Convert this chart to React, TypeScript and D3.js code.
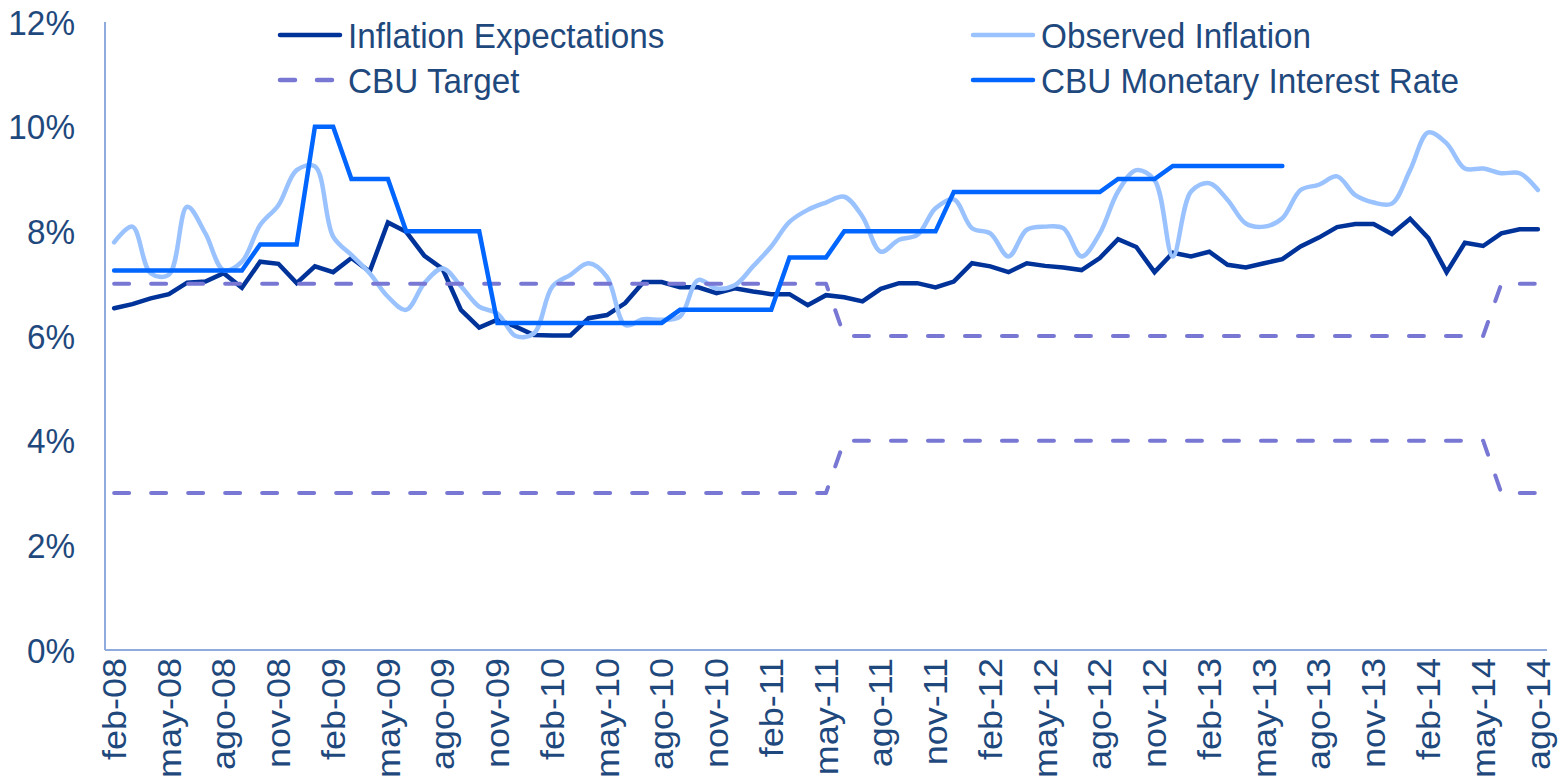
import React, { useEffect, useMemo } from "react";
import * as d3 from "d3";

// monthly categories, feb-08 .. ago-14
const months = [
  "feb-08", "mar-08", "abr-08", "may-08", "jun-08", "jul-08", "ago-08", "sep-08", "oct-08", "nov-08", "dic-08",
  "ene-09", "feb-09", "mar-09", "abr-09", "may-09", "jun-09", "jul-09", "ago-09", "sep-09", "oct-09", "nov-09", "dic-09",
  "ene-10", "feb-10", "mar-10", "abr-10", "may-10", "jun-10", "jul-10", "ago-10", "sep-10", "oct-10", "nov-10", "dic-10",
  "ene-11", "feb-11", "mar-11", "abr-11", "may-11", "jun-11", "jul-11", "ago-11", "sep-11", "oct-11", "nov-11", "dic-11",
  "ene-12", "feb-12", "mar-12", "abr-12", "may-12", "jun-12", "jul-12", "ago-12", "sep-12", "oct-12", "nov-12", "dic-12",
  "ene-13", "feb-13", "mar-13", "abr-13", "may-13", "jun-13", "jul-13", "ago-13", "sep-13", "oct-13", "nov-13", "dic-13",
  "ene-14", "feb-14", "mar-14", "abr-14", "may-14", "jun-14", "jul-14", "ago-14",
];

const inflationExpectations = [
  6.53, 6.61, 6.72, 6.8, 7.02, 7.04, 7.2, 6.92, 7.42, 7.38, 7.01,
  7.33, 7.22, 7.49, 7.23, 8.17, 7.99, 7.53, 7.28, 6.5, 6.16, 6.31, 6.18,
  6.02, 6.01, 6.01, 6.34, 6.4, 6.63, 7.03, 7.03, 6.93, 6.93, 6.82, 6.91,
  6.85, 6.8, 6.8, 6.59, 6.78, 6.74, 6.66, 6.9, 7.01, 7.01, 6.93, 7.04,
  7.39, 7.33, 7.22, 7.39, 7.34, 7.31, 7.26, 7.49, 7.85, 7.7, 7.22, 7.59,
  7.52, 7.61, 7.36, 7.31, 7.39, 7.47, 7.71, 7.88, 8.08, 8.14, 8.14, 7.95,
  8.24, 7.87, 7.22, 7.78, 7.72, 7.96, 8.04, 8.04,
];

const observedInflation = [
  7.79, 8.09, 7.2, 7.17, 8.47, 7.96, 7.26, 7.42, 8.12, 8.5, 9.17,
  9.24, 7.9, 7.55, 7.2, 6.75, 6.5, 7.01, 7.29, 6.95, 6.56, 6.43, 6.0,
  6.05, 6.94, 7.17, 7.39, 7.13, 6.21, 6.32, 6.31, 6.37, 7.07, 6.91, 6.97,
  7.33, 7.71, 8.18, 8.41, 8.55, 8.66, 8.28, 7.61, 7.84, 7.93, 8.44, 8.61,
  8.06, 7.96, 7.52, 8.03, 8.09, 8.06, 7.52, 7.96, 8.76, 9.17, 8.98, 7.52,
  8.76, 8.92, 8.6, 8.15, 8.09, 8.25, 8.79, 8.89, 9.05, 8.69, 8.55, 8.53,
  9.17, 9.89, 9.68, 9.2, 9.2, 9.11, 9.11, 8.79,
];

const targetUpper = [
  7, 7, 7, 7, 7, 7, 7, 7, 7, 7, 7,
  7, 7, 7, 7, 7, 7, 7, 7, 7, 7, 7, 7,
  7, 7, 7, 7, 7, 7, 7, 7, 7, 7, 7, 7,
  7, 7, 7, 7, 7, 6, 6, 6, 6, 6, 6, 6,
  6, 6, 6, 6, 6, 6, 6, 6, 6, 6, 6, 6,
  6, 6, 6, 6, 6, 6, 6, 6, 6, 6, 6, 6,
  6, 6, 6, 6, 6, 7, 7, 7,
];

const targetLower = [
  3, 3, 3, 3, 3, 3, 3, 3, 3, 3, 3,
  3, 3, 3, 3, 3, 3, 3, 3, 3, 3, 3, 3,
  3, 3, 3, 3, 3, 3, 3, 3, 3, 3, 3, 3,
  3, 3, 3, 3, 3, 4, 4, 4, 4, 4, 4, 4,
  4, 4, 4, 4, 4, 4, 4, 4, 4, 4, 4, 4,
  4, 4, 4, 4, 4, 4, 4, 4, 4, 4, 4, 4,
  4, 4, 4, 4, 4, 3, 3, 3,
];

const monetaryRate = [
  7.25, 7.25, 7.25, 7.25, 7.25, 7.25, 7.25, 7.25, 7.75, 7.75, 7.75,
  10, 10, 9, 9, 9, 8, 8, 8, 8, 8, 6.25, 6.25,
  6.25, 6.25, 6.25, 6.25, 6.25, 6.25, 6.25, 6.25, 6.5, 6.5, 6.5, 6.5,
  6.5, 6.5, 7.5, 7.5, 7.5, 8, 8, 8, 8, 8, 8, 8.75,
  8.75, 8.75, 8.75, 8.75, 8.75, 8.75, 8.75, 8.75, 9, 9, 9, 9.25,
  9.25, 9.25, 9.25, 9.25, 9.25, 9.25, null, null, null, null, null, null,
  null, null, null, null, null, null, null, null,
];

const yTicks = [0, 2, 4, 6, 8, 10, 12];

const TEXT = "#1f497d";
const AXIS = "#8faadc";
const FONT = "'Liberation Sans', Arial, sans-serif";
const FS = 36;
const SX = 0.925; // labels look horizontally squeezed in the source

const W = 1565;
const H = 779;
const margin = { left: 105, right: 18, top: 22, bottom: 129 };

const App = () => {
  useEffect(() => {
    document.body.style.margin = "0";
  }, []);

  const xScale = useMemo(() => d3.scaleBand()
    .domain(months)
    .range([margin.left, W - margin.right])
    .padding(0), []);

  const yScale = useMemo(() => d3.scaleLinear()
    .domain([0, 12])
    .range([H - margin.bottom, margin.top]), []);

  const cx = (i) => xScale(months[i]) + xScale.bandwidth() / 2;

  const straight = d3.line()
    .defined(d => d != null)
    .x((d, i) => cx(i))
    .y(d => yScale(d));

  const smooth = d3.line()
    .defined(d => d != null)
    .x((d, i) => cx(i))
    .y(d => yScale(d))
    .curve(d3.curveCatmullRom.alpha(0.5));

  const series = [
    { key: "exp", d: straight(inflationExpectations), color: "#003399", dash: null, join: "miter", w: 4.5 },
    { key: "obs", d: smooth(observedInflation), color: "#99c2ff", dash: null, join: "round", w: 4.5 },
    { key: "tu", d: straight(targetUpper), color: "#7878d4", dash: "15 22", join: "round", w: 4 },
    { key: "tl", d: straight(targetLower), color: "#7878d4", dash: "15 22", join: "round", w: 4 },
    { key: "mon", d: straight(monetaryRate), color: "#0066ff", dash: null, join: "miter", w: 4.5 },
  ];

  const legend = [
    { label: "Inflation Expectations", color: "#003399", dash: null, x: 280, y: 35 },
    { label: "Observed Inflation", color: "#99c2ff", dash: null, x: 973, y: 35 },
    { label: "CBU Target", color: "#7878d4", dash: "15 22", x: 280, y: 80 },
    { label: "CBU Monetary Interest Rate", color: "#0066ff", dash: null, x: 973, y: 80 },
  ];

  const y0 = yScale(0);

  return (
    <svg width={W} height={H} style={{ display: "block", background: "#fff" }} fontFamily={FONT}>
      {/* axes */}
      <line x1={margin.left} x2={margin.left} y1={yScale(12)} y2={y0} stroke={AXIS} strokeWidth={2} />
      <line x1={margin.left} x2={W - margin.right} y1={y0} y2={y0} stroke={AXIS} strokeWidth={2} />

      {yTicks.map(t => (
        <g key={t} transform={`translate(75,${yScale(t)}) scale(${SX},1)`}>
          <text textAnchor="end" dy="0.35em" fontSize={FS} fill={TEXT}>{t}%</text>
        </g>
      ))}

      {months.map((m, i) => (i % 3 === 0 ? (
        <g key={m} transform={`translate(${cx(i)},${y0 + 8}) scale(${SX},1) rotate(-90)`}>
          <text textAnchor="end" dy="0.35em" fontSize={FS} fill={TEXT}>{m}</text>
        </g>
      ) : null))}

      {/* series */}
      {series.map(s => (
        <path key={s.key} d={s.d} fill="none" stroke={s.color} strokeWidth={s.w}
          strokeDasharray={s.dash || undefined} strokeLinecap="round" strokeLinejoin={s.join} />
      ))}

      {/* legend */}
      {legend.map(l => (
        <g key={l.label}>
          <line x1={l.x} x2={l.x + 60} y1={l.y} y2={l.y} stroke={l.color} strokeWidth={4.5}
            strokeLinecap="round" strokeDasharray={l.dash || undefined} />
          <g transform={`translate(${l.x + 68},${l.y}) scale(${SX},1)`}>
            <text dy="0.35em" fontSize={FS} fill={TEXT}>{l.label}</text>
          </g>
        </g>
      ))}
    </svg>
  );
};

export default App;
